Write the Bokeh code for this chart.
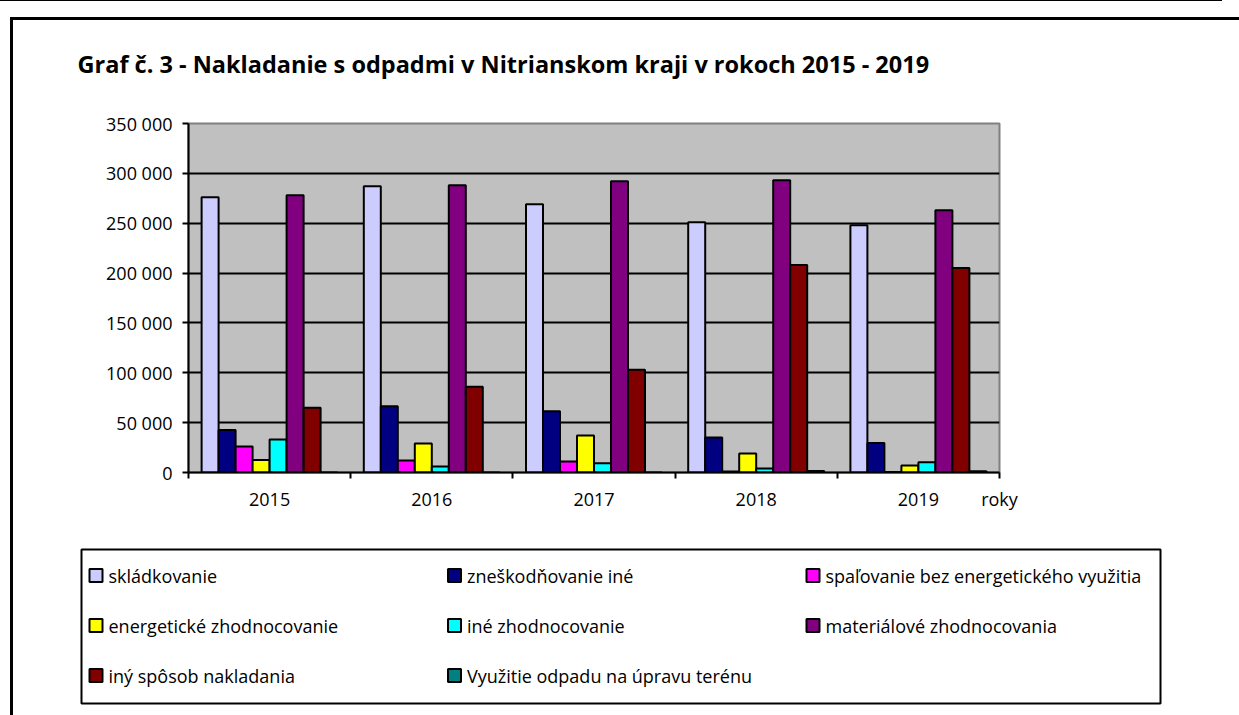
from bokeh.plotting import figure
from bokeh.models import FixedTicker, ColumnDataSource
from bokeh.layouts import column
from bokeh.transform import dodge
from bokeh.core.properties import value
from bokeh.embed import file_html
from bokeh.resources import INLINE

years = ["2015", "2016", "2017", "2018", "2019"]
x_axis_title = "roky"
series_names = ["skládkovanie", "zneškodňovanie iné", "spaľovanie bez energetického využitia",
                "energetické zhodnocovanie", "iné zhodnocovanie", "materiálové zhodnocovania",
                "iný spôsob nakladania", "Využitie odpadu na úpravu terénu"]
skladkovanie = [276000, 287000, 269000, 251000, 248000]
zneskodnovanie = [42500, 66500, 61500, 35000, 29500]
spalovanie = [26000, 12000, 11000, 1000, 600]
energeticke = [12500, 29000, 37000, 19000, 7000]
ine_zhodnocovanie = [33000, 6000, 9200, 4000, 10200]
materialove = [278000, 288000, 292000, 293000, 263000]
iny_sposob = [65000, 86000, 103000, 208000, 205000]
vyuzitie = [0, 0, 0, 1500, 1200]
y_ticks = [0, 50000, 100000, 150000, 200000, 250000, 300000, 350000]
y_tick_labels = ["0", "50 000", "100 000", "150 000", "200 000", "250 000", "300 000", "350 000"]
colors = ["#CCCCFF", "#000080", "#FF00FF", "#FFFF00", "#00FFFF", "#800080", "#800000", "#008080"]

series = [skladkovanie, zneskodnovanie, spalovanie, energeticke, ine_zhodnocovanie,
          materialove, iny_sposob, vyuzitie]
keys = ["s%d" % i for i in range(len(series))]
data = {"x": [i + 0.5 for i in range(len(years))]}
for k, s in zip(keys, series):
    data[k] = s
src = ColumnDataSource(data)

FONT = "Open Sans"
p = figure(width=1226, height=546, x_range=(0, 5), y_range=(0, 350000),
           output_backend="svg", toolbar_location=None,
           min_border_left=175, min_border_right=240, min_border_top=100, min_border_bottom=75)
p.background_fill_color = "#C0C0C0"
p.border_fill_alpha = 0
p.outline_line_color = "#808080"
p.outline_line_width = 2
p.margin = (1, 0, 0, 13)

bw = 0.1048
for i, (k, c) in enumerate(zip(keys, colors)):
    p.vbar(x=dodge("x", (i - 3.5) * bw, range=p.x_range), top=k, width=bw, bottom=0,
           source=src, fill_color=c, line_color="black", line_width=2)

# axes
p.yaxis.ticker = FixedTicker(ticks=y_ticks)
p.yaxis.major_label_overrides = {t: l for t, l in zip(y_ticks, y_tick_labels)}
xt = [i + 0.5 for i in range(len(years))] + [len(years)]
p.xaxis.ticker = FixedTicker(ticks=xt, minor_ticks=list(range(len(years) + 1)))
ov = {i + 0.5: y for i, y in enumerate(years)}
ov[len(years)] = x_axis_title
p.xaxis.major_label_overrides = ov
for ax in (p.xaxis, p.yaxis):
    ax.axis_line_color = "black"
    ax.axis_line_width = 2
    ax.major_label_text_font = FONT
    ax.major_label_text_font_size = "18px"
    ax.major_label_text_color = "black"
p.yaxis.major_tick_line_width = 2
p.yaxis.major_tick_line_color = "black"
p.yaxis.major_tick_out = 6
p.yaxis.major_tick_in = 0
p.yaxis.minor_tick_line_color = None
p.yaxis.major_label_standoff = 10
p.xaxis.major_tick_line_color = None
p.xaxis.minor_tick_line_color = "black"
p.xaxis.minor_tick_line_width = 2
p.xaxis.minor_tick_out = 6
p.xaxis.minor_tick_in = 0
p.xaxis.major_label_standoff = 8

p.xgrid.grid_line_color = None
p.ygrid.grid_line_color = "black"
p.ygrid.grid_line_width = 2

p.title.text = "Graf č. 3 - Nakladanie s odpadmi v Nitrianskom kraji v rokoch 2015 - 2019"
p.title.text_font = FONT
p.title.text_font_size = "23.5px"
p.title.text_font_style = "bold"
p.title.text_color = "black"
p.title.align = "left"
p.title.offset = -111
p.title.standoff = 88

# legend drawn in its own small figure whose frame is the legend box
LW, LH = 1079, 154
lg = figure(width=1226, height=170, x_range=(0, LW), y_range=(LH, 0),
            output_backend="svg", toolbar_location=None,
            min_border_left=68, min_border_right=1226 - 68 - LW,
            min_border_top=2, min_border_bottom=170 - 2 - LH)
lg.axis.visible = False
lg.grid.grid_line_color = None
lg.background_fill_color = "white"
lg.border_fill_color = "white"
lg.outline_line_color = "black"
lg.outline_line_width = 2
ncol = 3
gx = [14.5 + (i % ncol) * 358.5 for i in range(len(series_names))]
gy = [26 + (i // ncol) * 50 for i in range(len(series_names))]
lsrc = ColumnDataSource(dict(x=gx, y=gy, tx=[v + 12.5 for v in gx], name=series_names, color=colors))
lg.rect(x="x", y="y", width=13, height=13, source=lsrc, fill_color="color",
        line_color="black", line_width=2)
lg.text(x="tx", y="y", text="name", source=lsrc, text_font=value(FONT), text_font_size="18px",
        text_baseline="middle", text_align="left", text_color="black")

top_box = column(p, spacing=0, margin=0, styles={
    "background-image": "linear-gradient(#000,#000), linear-gradient(#000,#000), linear-gradient(#000,#000)",
    "background-position": "0px 0px, 10px 17px, 10px 17px",
    "background-size": "1222px 1px, 1229px 3px, 3px 700px",
    "background-repeat": "no-repeat",
})
bottom_box = column(lg, spacing=0, margin=(0, 0, 0, 10),
                    styles={"border-left": "3px solid black"})

open("out.html", "w").write(file_html([top_box, bottom_box], INLINE))
